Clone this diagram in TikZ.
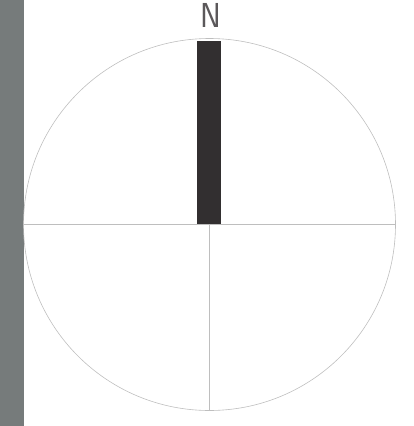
\documentclass[tikz,border=0pt]{standalone}
\usetikzlibrary{positioning}
\definecolor{slate}{RGB}{118,123,123}
\definecolor{needle}{RGB}{50,47,48}
\definecolor{hair}{RGB}{190,190,190}
\tikzset{
  dial/.style={circle,draw=hair,line width=0.6pt,minimum size=372pt,inner sep=0pt},
  crossline/.style={draw=hair,line width=0.6pt},
  northmark/.style={font=\sffamily\fontsize{33}{33}\selectfont,text=needle!80,inner sep=0pt},
}
\begin{document}
\begin{tikzpicture}[x=1pt,y=-1pt]
  \useasboundingbox (0,0) rectangle (414,426);
  \fill[slate] (0,0) rectangle (23.5,426);
  \node[dial] (rose) at (209.5,224.5) {};
  \coordinate (hub) at (rose.center);
  \draw[crossline] (rose.west) -- (rose.east);
  \draw[crossline] (hub) -- (rose.south);
  \fill[needle] (197,41) rectangle (220.5,224);
  \node[northmark,anchor=south,xscale=0.95,yscale=1.05] (north) at (210.5,27.5) {N};
\end{tikzpicture}
\end{document}
